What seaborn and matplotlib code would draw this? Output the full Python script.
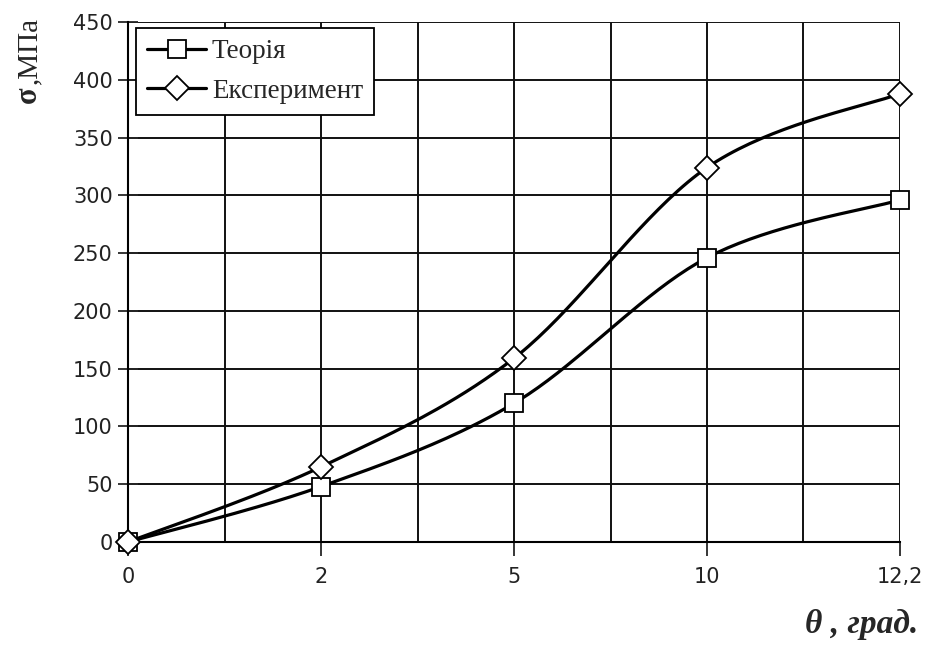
import numpy as np
import pandas as pd
import matplotlib
matplotlib.use("Agg")
import matplotlib.pyplot as plt
from matplotlib.ticker import MultipleLocator
from matplotlib.lines import Line2D
import seaborn as sns

# Angle categories (evenly spaced on the axis) and stress values, MPa
angles = ["0", "2", "5", "10", "12,2"]
theory = [0, 48, 120, 246, 296]
experiment = [0, 65, 159, 324, 388]

sns.set_style("white")
plt.rcParams["font.family"] = ["DejaVu Sans"]


def smooth(xs, ys, n=40):
    """Catmull-Rom style smoothing through the given points."""
    px = np.concatenate([[xs[0]], xs, [xs[-1]]]).astype(float)
    py = np.concatenate([[ys[0]], ys, [ys[-1]]]).astype(float)
    out_x, out_y = [], []
    for i in range(1, len(px) - 2):
        p0, p1, p2, p3 = (np.array([px[j], py[j]]) for j in range(i - 1, i + 3))
        c1 = p1 + (p2 - p0) / 6.0
        c2 = p2 - (p3 - p1) / 6.0
        t = np.linspace(0, 1, n, endpoint=(i == len(px) - 3))
        b = ((1 - t) ** 3)[:, None] * p1 + (3 * (1 - t) ** 2 * t)[:, None] * c1 \
            + (3 * (1 - t) * t ** 2)[:, None] * c2 + (t ** 3)[:, None] * p2
        out_x.extend(b[:, 0])
        out_y.extend(b[:, 1])
    return np.array(out_x), np.array(out_y)


pos = np.arange(len(angles))
fig = plt.figure(figsize=(9.31, 6.52), dpi=100)
ax = fig.add_axes([0.1375, 0.1687, 0.8292, 0.7976])

MS = {"s": 13, "D": 12}
series = [("Теорія", theory, "s"), ("Експеримент", experiment, "D")]
for name, vals, mk in series:
    sx, sy = smooth(pos, np.array(vals))
    sns.lineplot(x=sx, y=sy, ax=ax, color="black", lw=2.3, sort=False,
                 estimator=None, zorder=3)
    ax.plot(pos, vals, ls="none", marker=mk, ms=MS[mk],
            mfc="white", mec="black", mew=1.3, zorder=4, clip_on=False)

ax.set_xlim(0, len(angles) - 1)
ax.set_ylim(0, 450)
ax.set_xticks(pos)
ax.set_xticklabels(angles)
ax.xaxis.set_minor_locator(MultipleLocator(0.5))
ax.yaxis.set_major_locator(MultipleLocator(50))
ax.grid(True, which="both", axis="x", color="#111111", lw=1.4)
ax.grid(True, which="major", axis="y", color="#111111", lw=1.4)
ax.set_axisbelow(True)
for s in ["top", "right"]:
    ax.spines[s].set_visible(False)
for s in ["left", "bottom"]:
    ax.spines[s].set_color("black")
    ax.spines[s].set_linewidth(1.5)

ax.tick_params(axis="y", which="major", direction="inout", length=14, width=1.3,
               labelsize=15, pad=4, left=True, labelcolor="#222222")
ax.tick_params(axis="x", which="major", direction="out", length=10, width=1.3,
               labelsize=15, pad=8, bottom=True, labelcolor="#222222")
ax.tick_params(axis="x", which="minor", length=0)

# Axis titles
fig.text(36 / 931, (652 - 103) / 652, "σ", rotation=90, rotation_mode="anchor",
         ha="left", va="baseline", fontsize=22, family="Liberation Serif",
         fontweight="bold")
fig.text(36 / 931, (652 - 84) / 652, ",МПа", rotation=90, rotation_mode="anchor",
         ha="left", va="baseline", fontsize=21, family="Liberation Serif")
fig.text(0.986, 0.018, "θ , град.", ha="right", va="bottom", fontsize=24,
         family="Liberation Serif", fontweight="bold", fontstyle="italic")

handles = [Line2D([], [], color="black", lw=2.3, marker=mk,
                  ms=MS[mk], mfc="white", mec="black", mew=1.3)
           for _, _, mk in series]
leg = ax.legend(handles, [s[0] for s in series], loc="upper left",
                bbox_to_anchor=(0.0104, 0.988), frameon=True, fancybox=False,
                edgecolor="black", framealpha=1, handlelength=2.2,
                prop={"family": "Liberation Serif", "size": 19.5},
                borderpad=0.4, labelspacing=0.55, handletextpad=0.2,
                borderaxespad=0)
leg.get_frame().set_linewidth(1.3)

fig.savefig("out.png", dpi=100, facecolor="white")
